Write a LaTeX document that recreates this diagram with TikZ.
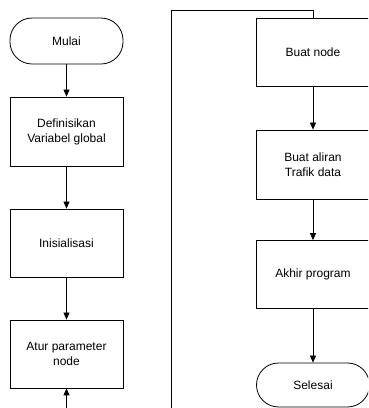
\documentclass[tikz,border=0pt]{standalone}
\usepackage{fontspec}
\setmainfont{Liberation Sans}
\usetikzlibrary{arrows.meta}
\begin{document}
\begin{tikzpicture}[x=1pt,y=1pt,
  box/.style={draw, line width=0.8pt, fill=white, minimum width=113pt, minimum height=68pt,
    align=center, inner sep=0pt, font=\fontsize{12}{15}\selectfont},
  term/.style={box, minimum height=46pt, rounded corners=22pt},
  flow/.style={line width=0.8pt, -{Triangle[length=7pt,width=6pt]}},
  link/.style={line width=0.8pt}]
\useasboundingbox (0,0) rectangle (368,408);
\clip (0,0) rectangle (368,408);
% left column
\node[term] (mulai) at (66.5,367) {Mulai};
\node[box, minimum height=69pt] (def) at (66.5,276.5) {Definisikan\\Variabel global};
\node[box] (init) at (66.5,165) {Inisialisasi};
\node[box] (atur) at (66.5,54) {Atur parameter\\node};
% right column
\node[box] (buat) at (313,356) {Buat node};
\node[box, minimum height=69pt] (aliran) at (313,243.5) {Buat aliran\\Trafik data};
\node[box] (akhir) at (313,133.5) {Akhir program};
\node[term, minimum height=44pt] (selesai) at (313,23) {Selesai};
% free ends
\coordinate (lb) at (171,0);
\coordinate (lt) at (171,398);
\coordinate (ab) at (66.5,0);
% connectors
\draw[flow] (mulai) -- (def);
\draw[flow] (def) -- (init);
\draw[flow] (init) -- (atur);
\draw[flow] (ab) -- (atur.south);
\draw[link] (lb) -- (lt) -| (buat.north);
\draw[flow] (buat) -- (aliran);
\draw[flow] (aliran) -- (akhir);
\draw[flow] (akhir) -- (selesai);
\end{tikzpicture}
\end{document}
